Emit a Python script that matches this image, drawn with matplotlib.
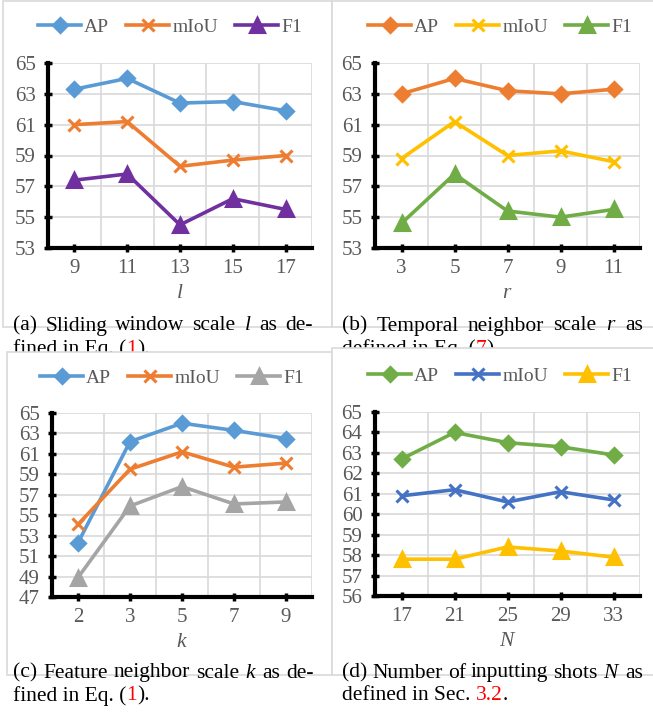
import numpy as np
import matplotlib
matplotlib.use("Agg")
import matplotlib.pyplot as plt
from matplotlib.patches import Rectangle

plt.rcParams['font.family'] = 'Liberation Serif'
plt.rcParams['mathtext.fontset'] = 'custom'
plt.rcParams['mathtext.it'] = 'Liberation Serif:italic'
plt.rcParams['mathtext.rm'] = 'Liberation Serif'

# data
series_names = ['AP', 'mIoU', 'F1']

l_vals = ['9', '11', '13', '15', '17']
a_ap = [63.3, 64.0, 62.4, 62.5, 61.9]
a_miou = [61.0, 61.2, 58.3, 58.7, 59.0]
a_f1 = [57.4, 57.8, 54.5, 56.2, 55.5]

r_vals = ['3', '5', '7', '9', '11']
b_ap = [63.0, 64.0, 63.2, 63.0, 63.3]
b_miou = [58.8, 61.2, 59.0, 59.3, 58.6]
b_f1 = [54.6, 57.8, 55.4, 55.0, 55.5]

k_vals = ['2', '3', '5', '7', '9']
c_ap = [52.3, 62.2, 64.0, 63.3, 62.5]
c_miou = [54.1, 59.5, 61.2, 59.7, 60.1]
c_f1 = [48.9, 55.9, 57.8, 56.1, 56.3]

n_vals = ['17', '21', '25', '29', '33']
d_ap = [62.7, 64.0, 63.5, 63.3, 62.9]
d_miou = [60.9, 61.2, 60.6, 61.1, 60.7]
d_f1 = [57.8, 57.8, 58.4, 58.2, 57.9]

W, H = 653, 712
fig = plt.figure(figsize=(W / 100, H / 100), dpi=100)
renderer = fig.canvas.get_renderer()

GRID = '#d9d9d9'
TXT = '#595959'
markers = ['D', 'x', '^']
msizes = [7.5, 8.5, 9.5]


def fx(x):
    return x / W


def fy(y):
    return 1 - y / H


def box(x0, y0, x1, y1, z):
    fig.add_artist(Rectangle((fx(x0), fy(y1)), fx(x1) - fx(x0), fy(y0) - fy(y1),
                             transform=fig.transFigure, facecolor='white',
                             edgecolor=GRID, lw=1.2, zorder=z))


def panel(rect, cats, data, colors, ylim, ystep, xlabel, legend_xy, z):
    l, t, r, b = rect
    ax = fig.add_axes([fx(l), fy(b), fx(r) - fx(l), fy(t) - fy(b)], zorder=z)
    x = np.arange(len(cats))
    for vals, name, c, m, ms in zip(data, series_names, colors, markers, msizes):
        ax.plot(x, vals, color=c, lw=2.6, marker=m, ms=ms, mew=2.2,
                mec=c, mfc=c, label=name, clip_on=False, zorder=3)
    ax.set_xlim(-0.5, len(cats) - 0.5)
    ax.set_ylim(*ylim)
    ax.set_yticks(np.arange(ylim[0], ylim[1] + 0.1, ystep))
    ax.set_xticks(x)
    ax.set_xticklabels(cats)
    ax.set_xticks(np.arange(0.5, len(cats), 1), minor=True)
    ax.grid(which='minor', axis='x', color=GRID, lw=1.2)
    ax.grid(which='major', axis='y', color=GRID, lw=1.2)
    ax.set_axisbelow(True)
    for s in ['top', 'right']:
        ax.spines[s].set_visible(False)
    for s in ['left', 'bottom']:
        ax.spines[s].set_linewidth(3)
        ax.spines[s].set_color('black')
    ax.tick_params(which='major', direction='inout', length=6, width=2.5,
                   color='black', labelsize=15, labelcolor=TXT)
    ax.tick_params(axis='x', which='major', pad=5)
    ax.tick_params(axis='y', which='major', pad=6)
    ax.tick_params(which='minor', length=0)
    ax.set_xlabel(xlabel, fontsize=15.5, color=TXT, labelpad=4)
    ax.legend(loc='center', bbox_to_anchor=(fx(legend_xy[0]), fy(legend_xy[1])),
              bbox_transform=fig.transFigure, ncol=3, frameon=False,
              fontsize=14, labelcolor=TXT, handlelength=2.2,
              handletextpad=0.15, columnspacing=0.9)
    return ax


def width_of(s, size):
    t = fig.text(0, 0, s, fontsize=size)
    w = t.get_window_extent(renderer).width
    t.remove()
    return w


def justify(words, x0, x1, y, size, z):
    ws = [width_of(w, size) for w in words]
    gap = (x1 - x0 - sum(ws)) / (len(words) - 1)
    x = x0
    for w, wd in zip(words, ws):
        fig.text(fx(x), fy(y), w, fontsize=size, ha='left', va='baseline',
                 color='black', zorder=z)
        x += wd + gap


def runs(parts, x0, y, size, z):
    x = x0
    for s, c in parts:
        fig.text(fx(x), fy(y), s, fontsize=size, ha='left', va='baseline',
                 color=c, zorder=z)
        x += width_of(s, size)


CAP = 15.5

# top row boxes
box(3, 1, 332, 327, 1)
box(332, 1, 665, 327, 1)

panel((48, 63, 312, 248), l_vals, [a_ap, a_miou, a_f1],
      ['#5B9BD5', '#ED7D31', '#7030A0'], (53, 65), 2, '$l$', (170, 27), 2)
panel((375, 63, 640, 248), r_vals, [b_ap, b_miou, b_f1],
      ['#ED7D31', '#FFC000', '#70AD47'], (53, 65), 2, '$r$', (500, 27), 2)

justify(['(a)', 'Sliding', 'window', 'scale', '$l$', 'as', 'de-'], 13, 313, 330.5, CAP, 3)
runs([('fined in Eq. (', 'black'), ('1', 'red'), (').', 'black')], 13, 354, CAP, 3)
justify(['(b)', 'Temporal', 'neighbor', 'scale', '$r$', 'as'], 342, 643, 330.5, CAP, 3)
runs([('defined in Eq. (', 'black'), ('7', 'red'), (').', 'black')], 342, 354, CAP, 3)

# bottom row boxes cover the tail of the top captions
box(7, 352, 332, 675, 4)
box(332, 348, 665, 675, 4)

panel((52, 413, 312, 597), k_vals, [c_ap, c_miou, c_f1],
      ['#5B9BD5', '#ED7D31', '#A5A5A5'], (47, 65), 2, '$k$', (172, 378), 5)
panel((375, 412, 640, 596), n_vals, [d_ap, d_miou, d_f1],
      ['#70AD47', '#4472C4', '#FFC000'], (56, 65), 1, '$N$', (500, 376), 5)

justify(['(c)', 'Feature', 'neighbor', 'scale', '$k$', 'as', 'de-'], 13, 314, 677.5, CAP, 6)
runs([('fined in Eq. (', 'black'), ('1', 'red'), (').', 'black')], 13, 700.5, CAP, 6)
justify(['(d)', 'Number', 'of', 'inputting', 'shots', '$N$', 'as'], 342, 643, 677.5, CAP, 6)
runs([('defined in Sec. ', 'black'), ('3.2', 'red'), ('.', 'black')], 342, 700.5, CAP, 6)

fig.savefig('out.png', dpi=100)
